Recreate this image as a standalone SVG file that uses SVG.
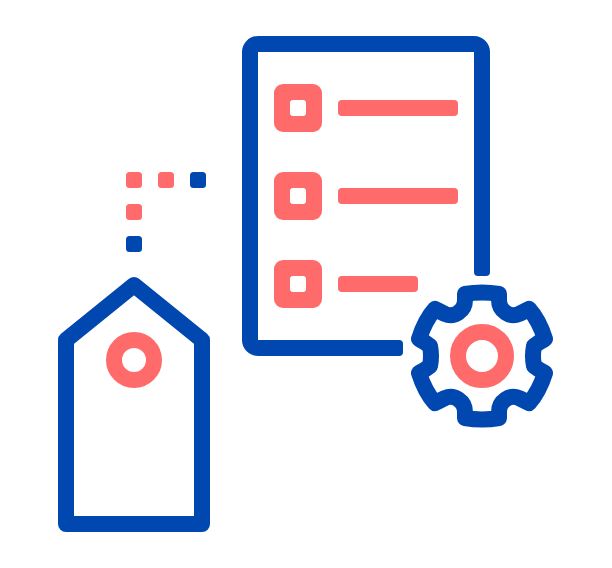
<svg xmlns="http://www.w3.org/2000/svg" width="612" height="568" viewBox="0 0 612 568">
<style>
.b{fill:none;stroke:#0047B0;stroke-width:16;stroke-linecap:butt;stroke-linejoin:round}
.r{fill:none;stroke:#FF6B6B;stroke-width:16}
.pf{fill:#FF6B6B}
.bf{fill:#0047B0}
.h{fill:#fff}
</style>
<defs>
<g id="box"><rect class="pf" x="274" width="48" height="48" rx="9"/><rect class="h" x="290" y="16" width="16" height="16" rx="3"/></g>
</defs>
<rect width="612" height="568" fill="#fff"/>
<g id="document">
<path class="b" d="M482,272V52a8,8 0 0 0-8-8H258a8,8 0 0 0-8,8V340a8,8 0 0 0 8,8H399"/>
<rect class="bf" x="474" y="262" width="16" height="14" rx="4"/>
<rect class="bf" x="389" y="340" width="14" height="16" rx="4"/>
<use href="#box" y="84"/>
<rect class="pf" x="338" y="100" width="120" height="16" rx="4"/>
<use href="#box" y="172"/>
<rect class="pf" x="338" y="188" width="120" height="16" rx="4"/>
<use href="#box" y="260"/>
<rect class="pf" x="338" y="276" width="80" height="16" rx="4"/>
</g>
<g id="gear">
<path class="b" transform="translate(482 356)" d="M-17,-62Q0,-65 17,-62V-56C17,-45 28,-38 37,-42Q43,-45 47,-47Q57,-36 63,-17Q57,-14 52,-10Q50,0 52,10Q57,14 63,17Q57,36 47,47Q43,45 37,42C28,38 17,45 17,56V62Q0,65 -17,62V56C-17,45 -28,38 -37,42Q-43,45 -47,47Q-57,36 -63,17Q-57,14 -52,10Q-50,0 -52,-10Q-57,-14 -63,-17Q-57,-36 -47,-47Q-43,-45 -37,-42C-28,-38 -17,-45 -17,-56Z"/>
<circle class="r" cx="482" cy="356" r="24"/>
</g>
<g id="tag">
<path class="b" d="M66,340L134,285L202,340V524H66Z"/>
<circle class="r" cx="134" cy="360" r="20"/>
</g>
<g id="dots">
<rect class="pf" x="126" y="172" width="16" height="16" rx="3.500"/>
<rect class="pf" x="158" y="172" width="16" height="16" rx="3.500"/>
<rect class="bf" x="190" y="172" width="16" height="16" rx="3.500"/>
<rect class="pf" x="126" y="204" width="16" height="16" rx="3.500"/>
<rect class="bf" x="126" y="236" width="16" height="16" rx="3.500"/>
</g>
</svg>
